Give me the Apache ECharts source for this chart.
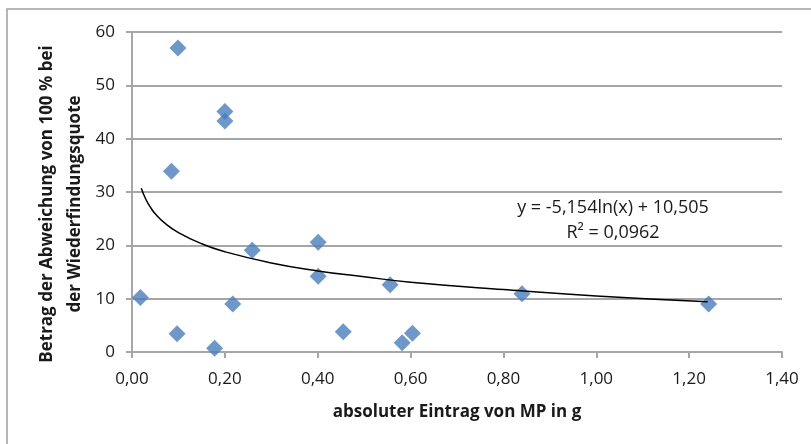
<!DOCTYPE html>
<html>
<head>
<meta charset="utf-8">
<script src="https://cdn.jsdelivr.net/npm/echarts@6/dist/echarts.min.js"></script>
<style>
  html, body { margin: 0; padding: 0; background: #fff; }
  #chart { width: 811px; height: 444px; }
</style>
</head>
<body>
<div id="chart"></div>
<script>
// Messpunkte: absoluter Eintrag (g) vs. Betrag der Abweichung (%)
const eintrag = [0.018, 0.085, 0.097, 0.099, 0.178, 0.200, 0.200, 0.217, 0.259,
                 0.401, 0.401, 0.455, 0.556, 0.582, 0.604, 0.840, 1.242];
const abweichung = [10.2, 33.9, 3.4, 57.0, 0.7, 45.1, 43.3, 9.0, 19.1,
                    20.6, 14.2, 3.8, 12.6, 1.75, 3.5, 10.9, 9.0];

// logarithmische Trendlinie
const trendX = [0.02, 0.03, 0.04, 0.05, 0.07, 0.10, 0.15, 0.20, 0.30, 0.40,
                0.50, 0.60, 0.80, 1.00, 1.24];
const trendY = [30.7, 28.6, 27.1, 25.9, 24.2, 22.4, 20.3, 18.8, 16.7, 15.2,
                14.1, 13.1, 11.7, 10.5, 9.4];

const eqText = ['y = -5,154ln(x) + 10,505', 'R² = 0,0962'];
const yName = 'Betrag der Abweichung von 100 % bei\nder Wiederfindungsquote';
const xName = 'absoluter Eintrag von MP in g';

const FONT = '"Open Sans", sans-serif';
const GRID = '#a6a6a6';
const INK = '#1a1a1a';

const chart = echarts.init(document.getElementById('chart'));

chart.setOption({
  animation: false,
  textStyle: { fontFamily: FONT },
  grid: { left: 132, right: 29, top: 32, bottom: 92 },
  graphic: [
    {
      type: 'rect', silent: true,
      shape: { x: 7, y: 9, width: 830, height: 460 },
      style: { fill: 'none', stroke: '#a0a0a0', lineWidth: 1.5 },
    },
    {
      type: 'text', silent: true,
      x: 613, y: 195,
      style: {
        text: eqText.join('\n'), fill: INK, font: '18px ' + FONT,
        align: 'center', lineHeight: 25,
      },
    },
    {
      // Achsentitel y, gedreht
      type: 'text', silent: true,
      x: 61, y: 204, rotation: Math.PI / 2,
      style: {
        text: yName, fill: INK, font: 'bold 17px ' + FONT,
        align: 'center', verticalAlign: 'middle', lineHeight: 28,
      },
    },
  ],
  xAxis: {
    type: 'value', min: 0, max: 1.4, interval: 0.2,
    name: xName, nameLocation: 'middle', nameGap: 52,
    nameTextStyle: { color: INK, fontSize: 17, fontWeight: 'bold' },
    axisLine: { lineStyle: { color: GRID, width: 2 } },
    axisTick: { show: true, length: 6, lineStyle: { color: GRID, width: 2 } },
    splitLine: { show: false },
    axisLabel: {
      color: INK, fontSize: 17, margin: 19,
      formatter: (v) => v.toFixed(2).replace('.', ','),
    },
  },
  yAxis: {
    type: 'value', min: 0, max: 60, interval: 10,
    axisLine: { show: true, lineStyle: { color: GRID, width: 2 } },
    axisTick: { show: true, length: 6, lineStyle: { color: GRID, width: 2 } },
    splitLine: { lineStyle: { color: GRID, width: 2 } },
    axisLabel: { color: INK, fontSize: 17, margin: 17 },
  },
  series: [
    {
      type: 'line', smooth: true, showSymbol: false, silent: true,
      lineStyle: { color: '#000', width: 1.5 },
      data: trendX.map((x, i) => [x, trendY[i]]),
      z: 3,
    },
    {
      type: 'scatter', symbol: 'diamond', symbolSize: 17,
      itemStyle: { color: '#4a7ebb' },
      data: eintrag.map((x, i) => [x, abweichung[i]]),
      z: 2,
    },
  ],
});
</script>
</body>
</html>
